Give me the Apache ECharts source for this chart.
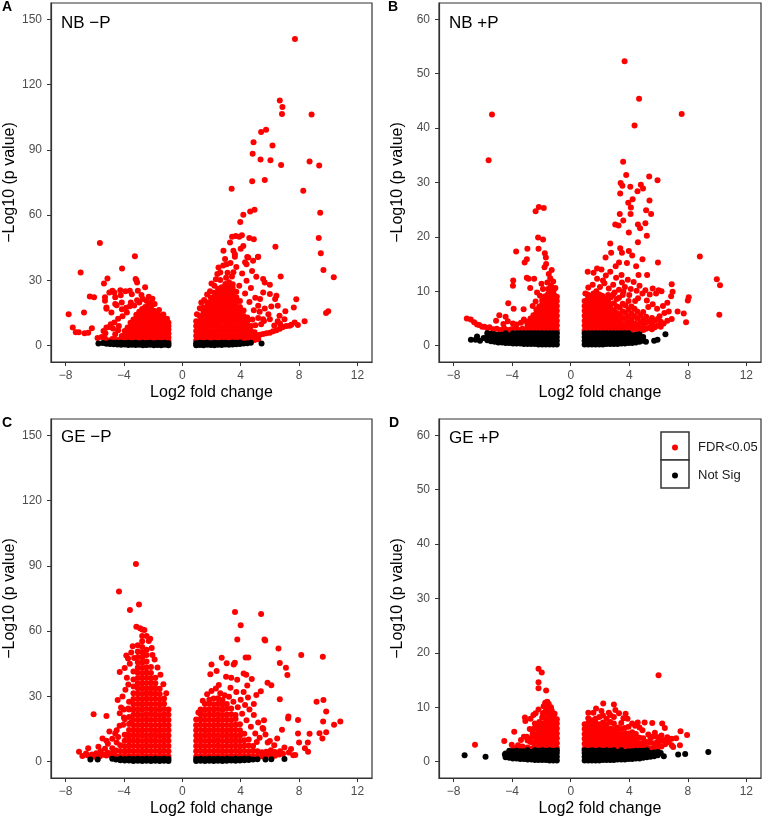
<!DOCTYPE html>
<html><head><meta charset="utf-8">
<script src="https://cdn.jsdelivr.net/npm/echarts@6/dist/echarts.min.js"></script>
<style>html,body{margin:0;padding:0;background:#fff}#c{width:762px;height:818px}</style>
</head><body><div id="c"></div><script>
const xTicks = [-8, -4, 0, 4, 8, 12];
const yTicksMinusP = [0, 30, 60, 90, 120, 150];
const yTicksPlusP = [0, 10, 20, 30, 40, 50, 60];
const panelNames = ['NB −P', 'NB +P', 'GE −P', 'GE +P'];
const panelLetters = ['A', 'B', 'C', 'D'];
const seriesNames = ['FDR<0.05', 'Not Sig'];

// ---- NB -P : columns are [x, y1, y2, ...]; points are [x, y]
const nbMinusSigCols = [
[-0.95,2.2,3.8,5.6,7.4,9.1,10.5],[-1.15,2.5,4.3,6.1,8.0,9.8,11.6],[-1.35,2.1,3.9,5.8,7.7,9.5,11.2,12.8],
[-1.55,2.6,4.5,6.4,8.3,10.1,12.0,13.9],[-1.75,2.3,4.1,6.0,7.9,9.9,11.8,13.6,15.2],[-1.95,2.7,4.6,6.5,8.5,10.4,12.3,14.2,16.0],
[-2.15,2.2,4.2,6.2,8.1,10.0,12.0,13.9,15.8,17.5],[-2.35,2.5,4.5,6.6,8.6,10.6,12.5,14.5,16.4,18.2],[-2.55,2.4,4.3,6.3,8.3,10.3,12.2,14.1,16.0,17.8],
[-2.75,2.6,4.7,6.8,8.8,10.9,12.8,14.8,16.9],[-2.95,2.3,4.2,6.1,8.0,10.0,12.1,14.0,15.6],[-3.15,2.5,4.6,6.7,8.8,10.8,12.7,14.2],
[-3.35,2.2,4.1,6.0,8.1,10.1,12.0],[-3.55,2.6,4.6,6.6,8.6,10.5],[-3.75,2.3,4.3,6.3,8.4],[-3.95,2.5,4.6,6.8],[-4.15,2.4,4.4],[-4.35,2.6],
[0.95,2.4,4.6,6.8,9.0,11.2],[1.2,2.6,4.8,7.0,9.2,11.4,13.6],[1.45,2.3,4.5,6.7,8.9,11.1,13.3,15.5,17.6],
[1.7,2.5,4.7,6.9,9.1,11.3,13.5,15.7,17.9,19.8],[1.95,2.4,4.6,6.8,9.0,11.2,13.4,15.6,17.8,20.0,22.1],
[2.2,2.6,4.8,7.0,9.2,11.4,13.6,15.8,18.0,20.2,22.4,24.3],[2.45,2.3,4.5,6.7,8.9,11.1,13.3,15.5,17.7,19.9,22.1,24.3,26.2],
[2.7,2.5,4.7,6.9,9.1,11.3,13.5,15.7,17.9,20.1,22.3,24.5,26.8],[2.95,2.4,4.6,6.8,9.0,11.2,13.4,15.6,17.8,20.0,22.2,24.4,26.6,28.3],
[3.2,2.6,4.8,7.0,9.2,11.4,13.6,15.8,18.0,20.2,22.4,24.6,26.8,29.1],[3.45,2.3,4.5,6.7,8.9,11.1,13.3,15.5,17.7,19.9,22.1,24.3,26.5,28.2],
[3.7,2.5,4.7,6.9,9.1,11.3,13.5,15.7,17.9,20.1,22.3,24.8],[3.95,2.4,4.6,6.8,9.0,11.2,13.4,15.6,17.8,20.5],
[4.2,2.6,4.8,7.0,9.2,11.4,13.6,16.2],[4.45,2.3,4.5,6.7,8.9,11.1,13.0],[4.7,2.5,4.7,6.9,9.0],[4.95,2.6,4.4,6.2],[5.2,3.0,4.6]
];
const nbMinusSigPts = [
[-5.65,47.2],[-3.25,41.1],[-4.13,35.5],[-6.97,33.6],[-5.13,30.9],[-3.15,30.1],[-5.37,28.6],[-6.34,22.6],[-6.05,22.3],[-7.79,14.5],
[-6.74,15.3],[-7.51,8.3],[-7.3,6.2],[-7.1,6.2],[-6.7,5.7],[-6.45,6.0],[-6.2,8.0],[-5.81,3.5],[-5.53,4.0],[-5.27,5.7],[-5.0,8.6],
[-4.66,10.6],[-4.86,15.2],[-5.2,17.0],[-5.3,20.6],[-4.66,24.4],[-4.25,25.5],[-3.9,25.0],[-5.0,24.4],[-4.5,18.6],[-3.53,19.8],
[-3.1,20.9],[-3.46,23.6],[-3.8,15.2],[-4.14,16.7],[-3.2,30.6],[-3.1,29.0],[-4.79,25.2],[-3.6,25.2],[-4.22,23.2],[-3.05,25.2],
[-5.3,22.3],[-4.6,22.3],[-4.6,19.2],[-4.15,19.9],[-5.2,17.6],[-4.9,9.9],[-5.2,8.3],[-5.4,6.8],[-4.4,12.4],[-4.1,13.5],[-3.85,17.4],
[-3.6,18.1],[-3.3,18.5],[-2.95,19.8],[-2.7,21.4],[-2.45,20.5],[-2.2,19.6],[-2.8,23.3],[-2.55,26.8],[-2.3,22.5],[-1.9,19.2],
[-1.6,16.4],[-1.3,14.3],[-1.05,12.4],[-2.05,21.6],[-4.55,2.6],[-4.8,3.1],[-5.05,2.4],[-5.3,3.3],[-4.6,5.2],[-4.4,7.1],[-4.75,7.9],[-4.35,9.0],
[7.72,140.9],[6.68,112.7],[6.86,109.7],[6.83,106.5],[8.86,106.3],[5.74,99.3],[5.40,98.2],[4.88,93.5],[6.18,92.0],[4.82,88.2],
[5.36,85.6],[6.04,85.2],[8.72,84.6],[6.77,83.0],[9.38,82.8],[4.79,75.6],[5.65,76.2],[3.38,72.1],[8.29,71.2],[4.95,62.5],[4.65,61.7],
[4.18,60.2],[9.45,61.1],[3.97,56.8],[9.35,49.5],[4.59,49.5],[4.9,48.9],[3.41,50.1],[6.38,45.5],[9.49,42.5],[9.67,34.8],[10.38,31.5],
[6.74,31.8],[7.81,21.3],[7.64,17.5],[7.06,15.8],[9.85,15.0],[10.0,15.8],[8.38,11.2],[4.45,40.8],[5.18,40.8],
[3.66,50.4],[3.9,50.1],[4.08,50.7],[3.27,47.4],[2.82,43.6],[2.93,39.8],[3.5,43.6],[3.6,40.9],[4.18,45.8],[4.52,40.5],[4.85,39.0],
[5.2,40.9],[2.48,35.9],[2.6,33.6],[3.04,37.4],[4.4,37.4],[4.78,34.3],[5.07,31.7],[5.54,30.6],[5.65,29.0],[6.0,28.0],[6.0,23.7],
[6.45,22.9],[6.36,21.4],[5.54,24.4],[5.33,21.4],[5.2,18.3],[5.65,17.1],[6.1,18.0],[6.54,18.3],[6.66,13.8],[5.9,14.5],[6.0,12.2],
[5.54,12.2],[6.54,11.2],[7.0,12.2],[7.36,9.2],[7.7,10.7],[7.92,9.5],
[6.9,8.6],[6.45,7.1],[6.0,6.0],[5.54,5.4],[5.1,4.8],[4.63,4.1],[4.2,3.5],[7.13,9.0],[7.47,9.6],[6.68,7.8],[6.22,6.6],[5.77,5.7],
[5.32,5.0],[4.87,4.4],[4.4,3.8],
[3.1,33.5],[3.4,31.8],[2.6,30.2],[3.9,27.5],[4.3,24.0],[4.6,20.1],[4.9,16.3],[5.2,12.7],[5.4,9.8],[2.2,27.5],[1.9,25.0],[1.5,21.0],
[1.2,17.2],[3.7,36.2],[3.3,38.0],[2.8,36.8],[4.1,33.2],[4.4,29.8],[3.6,42.0],[4.0,44.5],[4.3,38.4],[2.4,33.0],[1.0,14.5],[1.3,19.8],
[1.7,23.5],[2.0,28.6],[2.3,30.5],[3.0,31.2],[3.5,33.8],[4.7,26.5],[5.0,22.0],[5.3,15.6],[5.6,11.4],[5.0,9.4],[4.8,12.0],[6.3,9.3],[6.7,10.1]
];
const nbMinusNsCols = [
[-0.95,0.2,1.1],[-1.2,0.4,1.3],[-1.45,0.2,1.2],[-1.7,0.3,1.4],[-1.95,0.2,1.1],[-2.2,0.4,1.3],[-2.45,0.3,1.2],[-2.7,0.2,1.4],
[-2.95,0.4,1.1],[-3.2,0.3,1.3],[-3.45,0.4,1.2],[-3.7,0.3,1.4],[-3.95,0.5,1.2],[-4.2,0.4,1.3],[-4.45,0.6,1.4],[-4.7,0.7,1.3],
[-4.95,0.8,1.5],[-5.2,0.9],[-5.45,1.2],[-5.75,1.0],
[0.95,0.2,1.1],[1.2,0.3,1.3],[1.45,0.2,1.2],[1.7,0.4,1.4],[1.95,0.3,1.1],[2.2,0.2,1.3],[2.45,0.4,1.2],[2.7,0.3,1.4],[2.95,0.5,1.3],
[3.2,0.4,1.2],[3.45,0.6,1.5],[3.7,0.7,1.3],[3.95,0.8,1.5],[4.2,1.0],[4.45,1.1],[4.7,1.3],[5.43,1.0]
];

// ---- NB +P
const nbPlusSigCols = [
[-0.95,2.8,3.7,4.6,5.5,6.4,7.3,8.2,9.0],[-1.15,3.1,4.0,4.9,5.8,6.7,7.6,8.5,9.4,10.3],[-1.35,2.9,3.8,4.7,5.6,6.5,7.4,8.3,9.2,10.1,11.0],
[-1.55,3.2,4.1,5.0,5.9,6.8,7.7,8.6,9.5,10.4],[-1.75,2.8,3.7,4.6,5.5,6.4,7.3,8.2,9.1],[-1.95,3.1,4.0,4.9,5.8,6.7,7.6,8.3],
[-2.15,2.9,3.8,4.7,5.6,6.5,7.2],[-2.35,3.2,4.1,5.0,5.9,6.6],[-2.55,2.8,3.7,4.6,5.6],[-2.75,3.1,4.0,5.0],[-2.95,2.9,3.8],
[0.95,2.8,3.7,4.6,5.5,6.4,7.3,8.2],[1.15,3.1,4.0,4.9,5.8,6.7,7.6,8.5,9.4],[1.35,2.9,3.8,4.7,5.6,6.5,7.4,8.3,9.2],
[1.55,3.2,4.1,5.0,5.9,6.8,7.7,8.6,9.6],[1.75,2.8,3.7,4.6,5.5,6.4,7.3,8.2,9.1,10.0],[1.95,3.1,4.0,4.9,5.8,6.7,7.6,8.5,9.4],
[2.15,2.9,3.8,4.7,5.6,6.5,7.4,8.3,9.2],[2.35,3.2,4.1,5.0,5.9,6.8,7.7,8.6],[2.55,2.8,3.7,4.6,5.5,6.4,7.3,8.2,9.3],
[2.75,3.1,4.0,4.9,5.8,6.7,7.6,8.9],[2.95,2.9,3.8,4.7,5.6,6.5,7.8],[3.15,3.2,4.1,5.0,6.0,7.2,8.6],[3.35,2.8,3.7,4.7,5.8,7.0],
[3.55,3.1,4.0,5.1,6.3,7.7,9.3],[3.75,2.9,3.9,4.9,6.0,7.4],[3.95,3.2,4.2,5.3,6.6,8.2],[4.15,2.8,3.8,4.8,5.9,7.2],
[4.35,3.1,4.1,5.4,6.8],[4.55,2.9,3.9,5.0,6.3],[4.75,3.2,4.3,5.6],[4.95,2.9,3.8,4.8,6.2],[5.15,3.1,4.2,5.3],[5.35,3.3,4.5],
[5.55,3.0,4.0,5.1],[5.75,3.4,4.6],[5.95,3.7,4.9],[6.15,3.5,4.4],[6.35,4.1]
];
const nbPlusSigPts = [
[-5.61,34.1],[-5.38,42.5],[-2.4,24.7],[-2.18,25.5],[-1.84,25.3],[-2.23,19.9],[-1.89,19.5],[-3.73,17.3],[-2.96,17.8],[-2.2,17.8],
[-1.77,17.0],[-1.7,16.2],[-3.0,15.9],[-3.15,15.3],[-1.68,15.0],[-1.79,14.4],[-3.93,12.0],[-3.95,11.0],[-3.0,12.5],[-2.88,12.3],
[-2.5,12.3],[-2.77,10.6],[-2.3,9.8],[-4.27,7.8],[-3.9,6.8],[-3.22,6.7],[-4.88,5.6],[-5.1,4.6],[-7.1,5.0],[-6.83,4.8],[-6.6,4.3],
[-6.4,3.9],[-6.25,3.8],[-6.05,3.5],[-5.9,3.5],[-5.7,3.2],[-5.55,3.4],[-5.3,3.0],[-5.05,3.1],[-4.8,2.9],[-4.55,3.2],[-4.3,2.9],
[-4.05,3.0],[-3.8,3.3],[-3.55,2.9],[-3.3,3.1],[-3.05,3.0],[-4.6,4.0],[-4.3,4.5],[-3.95,4.1],[-3.7,3.9],[-3.4,4.2],[-3.2,4.8],
[-3.0,4.4],[-4.45,5.3],[-2.6,7.3],[-2.4,8.1],[-2.1,9.2],[-1.9,10.4],[-1.6,11.6],[-1.4,12.4],[-1.2,11.8],[-1.05,10.6],[-1.5,13.2],
[-2.0,11.4],[-1.3,13.9],
[3.68,52.3],[4.67,45.4],[7.58,42.6],[4.36,40.5],[3.58,33.8],[3.79,31.4],[3.41,29.9],[3.53,29.4],[4.07,29.2],[4.79,29.6],[4.94,28.9],
[5.36,31.1],[5.93,30.4],[4.56,28.4],[3.38,28.0],[4.23,26.9],[5.38,26.7],[3.93,26.3],[4.11,25.4],[5.15,24.9],[5.49,24.2],[3.35,24.2],
[4.09,24.2],[3.59,23.0],[3.04,22.3],[3.27,22.1],[4.59,22.3],[5.1,22.5],[4.74,21.6],[3.97,20.8],[4.59,19.0],[5.2,20.2],[2.7,18.8],
[3.38,17.9],[3.5,17.1],[3.97,17.4],[2.76,17.1],[2.38,16.2],[4.2,16.6],[4.9,15.9],[3.3,15.3],[3.84,15.2],[4.47,14.6],[5.96,15.3],
[1.8,14.2],[2.1,14.0],[1.16,13.6],[1.56,13.4],[3.07,14.6],[3.47,13.0],[4.63,13.0],[5.22,13.0],[6.9,11.3],[6.96,9.9],[8.82,16.4],
[9.98,12.2],[10.2,11.1],[10.15,5.7],[8.06,8.9],[8.0,8.3],[7.72,5.9],[7.88,4.3],[7.3,6.3],[6.86,9.1],[6.7,6.3],[6.4,6.0],[6.07,5.4],
[5.83,9.6],[6.0,10.2],[5.6,10.5],[6.2,10.0],[5.4,9.4],[5.2,8.3],
[2.0,10.8],[2.3,11.5],[2.6,10.5],[2.9,11.2],[3.1,12.5],[3.3,10.3],[3.5,11.6],[3.7,10.8],[3.9,12.1],[4.1,10.4],[4.3,11.7],[4.5,10.1],
[4.7,11.0],[4.9,9.6],[5.1,10.2],[1.5,11.2],[1.8,12.3],[2.4,12.9],[2.7,13.6],[3.0,9.8],[3.6,9.9],[4.0,9.3],[4.6,8.7],[5.3,7.1],
[5.6,7.6],[5.9,6.8],[6.3,7.3],[6.6,7.9],[1.2,10.7],[1.0,9.6],[2.2,12.0],[4.4,8.2],[3.3,8.8],[2.9,9.4],[6.6,4.6],[6.9,4.9]
];
const nbPlusNsCols = [
[-0.95,0.2,0.9,1.6,2.3],[-1.2,0.2,0.9,1.6,2.3],[-1.45,0.2,0.9,1.6,2.3],[-1.7,0.2,0.9,1.6,2.3],[-1.95,0.2,0.9,1.6,2.3],
[-2.2,0.2,0.9,1.6,2.3],[-2.45,0.3,1.0,1.7,2.3],[-2.7,0.3,1.0,1.7,2.3],[-2.95,0.3,1.0,1.7,2.3],[-3.2,0.3,1.0,1.7,2.3],
[-3.45,0.4,1.1,1.8,2.3],[-3.7,0.4,1.1,1.8,2.3],[-3.95,0.4,1.1,1.8,2.3],[-4.2,0.5,1.2,1.9],[-4.45,0.5,1.2,1.9,2.3],
[-4.7,0.6,1.3,2.0],[-4.95,0.6,1.3,2.0],[-5.2,0.7,1.4,2.1],[-5.45,0.8,1.5,2.2],[-5.7,1.0,1.7,2.3],[-5.95,1.4],[-6.2,0.9],
[-6.4,1.7],[-6.5,1.1],[-6.82,1.1],
[0.95,0.2,0.9,1.6,2.3],[1.2,0.2,0.9,1.6,2.3],[1.45,0.2,0.9,1.6,2.3],[1.7,0.2,0.9,1.6,2.3],[1.95,0.2,0.9,1.6,2.3],
[2.2,0.2,0.9,1.6,2.3],[2.45,0.3,1.0,1.7,2.3],[2.7,0.3,1.0,1.7,2.3],[2.95,0.3,1.0,1.7,2.3],[3.2,0.3,1.0,1.7,2.3],
[3.45,0.4,1.1,1.8,2.3],[3.7,0.4,1.1,1.8,2.3],[3.95,0.5,1.2,1.9,2.3],[4.2,0.5,1.2,1.9],[4.45,0.6,1.3,2.0],[4.7,0.7,1.4,2.1],
[4.95,0.9,1.6],[5.14,0.7],[5.7,0.9],[5.93,1.1],[6.47,2.1]
];

// ---- GE -P
const geMinusSigCols = [
[-0.95,2.4,4.8,7.2,9.6,12.0,14.4,16.8,19.2,21.6,24.0],
[-1.25,2.6,5.0,7.4,9.8,12.2,14.6,17.0,19.4,21.8,24.2,26.6,29.0],
[-1.55,2.3,4.7,7.1,9.5,11.9,14.3,16.7,19.1,21.5,23.9,26.3,28.7,31.1,33.5],
[-1.85,2.5,4.9,7.3,9.7,12.1,14.5,16.9,19.3,21.7,24.1,26.5,28.9,31.3,33.7,36.1,38.6],
[-2.15,2.4,4.8,7.2,9.6,12.0,14.4,16.8,19.2,21.6,24.0,26.4,28.8,31.2,33.6,36.0,38.4,40.8,43.5],
[-2.45,2.6,5.0,7.4,9.8,12.2,14.6,17.0,19.4,21.8,24.2,26.6,29.0,31.4,33.8,36.2,38.6,41.0,43.4,46.0,49.0,51.5],
[-2.75,2.3,4.7,7.1,9.5,11.9,14.3,16.7,19.1,21.5,23.9,26.3,28.7,31.1,33.5,35.9,38.3,40.7,43.1,45.5,47.9,50.3,52.7,55.3,57.8],
[-3.05,2.5,4.9,7.3,9.7,12.1,14.5,16.9,19.3,21.7,24.1,26.5,28.9,31.3,33.7,36.1,38.5,40.9,43.3,45.7,48.1,50.6,53.5],
[-3.35,2.4,4.8,7.2,9.6,12.0,14.4,16.8,19.2,21.6,24.0,26.4,28.8,31.5,34.5,37.8,41.5],
[-3.65,2.6,5.0,7.4,9.8,12.2,14.6,17.3,20.5,24.0,27.5],[-3.95,2.3,4.7,7.1,9.6,12.4],[-4.25,2.5,4.9,7.5],[-4.55,2.6,5.1],
[0.95,2.4,4.8,7.2,9.6,12.0,14.4,16.8,19.4],[1.25,2.6,5.0,7.4,9.8,12.2,14.6,17.0,19.4,21.8,24.0],
[1.55,2.3,4.7,7.1,9.5,11.9,14.3,16.7,19.1,21.5,23.9,26.5],[1.85,2.5,4.9,7.3,9.7,12.1,14.5,16.9,19.3,21.7,24.1,26.6,28.5],
[2.15,2.4,4.8,7.2,9.6,12.0,14.4,16.8,19.2,21.6,24.0,26.4,29.0],[2.45,2.6,5.0,7.4,9.8,12.2,14.6,17.0,19.4,21.8,24.2,26.6,29.2],
[2.75,2.3,4.7,7.1,9.5,11.9,14.3,16.7,19.1,21.5,23.9,26.3,28.4],[3.05,2.5,4.9,7.3,9.7,12.1,14.5,16.9,19.3,21.7,24.3,26.5],
[3.35,2.4,4.8,7.2,9.6,12.0,14.4,16.8,19.2,21.8,24.5],[3.65,2.6,5.0,7.4,9.8,12.2,14.6,17.0,19.6,21.5],
[3.95,2.3,4.7,7.1,9.5,11.9,14.5,17.2],[4.25,2.5,4.9,7.3,9.9,12.8],[4.55,2.4,4.8,7.4,10.2],[4.85,2.6,5.0,7.2],
[5.15,2.3,4.8],[5.45,2.5,4.3],[5.75,2.8,4.6],[6.05,3.1],[6.35,2.7,4.4],[6.65,3.3]
];
const geMinusSigPts = [
[-3.18,90.8],[-4.34,78.2],[-2.97,72.2],[-3.59,69.7],[-3.15,62.0],[-2.75,60.7],[-2.2,56.5],[-3.84,48.8],[-3.72,47.4],[-4.29,41.2],
[-4.43,28.4],[-6.08,21.8],[-5.2,21.0],[-4.29,22.3],[-4.2,24.9],[-4.0,24.0],[-3.7,24.5],[-4.5,14.5],[-5.0,13.9],[-5.47,10.7],
[-5.2,9.6],[-7.08,4.6],[-6.45,6.2],[-6.6,3.8],[-3.95,19.5],[-3.85,12.3],[-3.52,18.0],[-2.6,60.5],[-2.9,61.3],[-3.4,53.0],
[-3.5,50.2],[-2.3,55.5],[-2.1,52.3],[-1.9,47.0],[-1.7,43.3],[-1.5,40.0],[-1.3,35.6],[-1.1,31.5],[-3.6,45.0],[-3.8,38.6],
[-3.9,33.1],[-4.1,30.0],[-3.7,35.5],[-4.0,20.3],[-4.3,16.5],[-4.6,13.0],[-4.8,10.5],[-5.1,8.2],[-4.4,11.4],[-5.3,6.0],[-5.6,4.8],
[-5.9,3.9],[-6.2,3.3],[-6.5,2.9],[-4.9,3.5],[-5.2,2.8],[-4.8,6.2],[-4.5,8.8],[-4.05,17.0],[-6.85,2.6],[-5.75,6.9],[-2.45,57.8],
[-2.05,49.0],[-3.3,47.6],[-3.95,43.0],[-4.85,2.6],[-5.1,4.1],[-4.7,4.5],[-5.4,3.2],[-5.65,2.5],[-6.0,2.4],
[3.61,68.8],[5.4,67.9],[4.0,62.7],[3.77,56.2],[5.63,56.2],[5.68,55.7],[6.59,52.0],[8.15,49.0],[9.63,48.2],[6.68,45.4],[2.7,47.8],
[3.52,44.7],[3.6,45.5],[4.34,47.9],[4.52,47.9],[2.0,44.7],[3.04,45.2],[7.1,43.2],[7.2,39.8],[4.2,40.5],[4.38,40.0],[4.76,38.0],
[3.0,39.0],[3.35,38.6],[1.92,40.2],[2.35,41.7],[3.76,37.6],[4.45,35.0],[5.84,36.3],[6.1,35.1],[5.38,32.4],[5.07,30.7],[6.68,28.7],
[9.2,27.6],[9.67,28.4],[9.86,23.1],[7.27,20.8],[7.25,19.9],[7.93,19.1],[9.65,18.5],[10.83,18.5],[10.4,17.0],[5.6,19.0],[5.55,15.0],
[6.83,14.7],[7.93,13.0],[8.72,12.8],[9.4,13.1],[9.86,13.5],[9.6,10.7],[6.5,10.7],[8.0,8.8],[8.6,8.8],[8.4,6.2],[8.62,4.6],[7.74,3.1],
[7.45,5.8],[6.7,4.8],[5.85,8.8],[6.07,5.2],
[1.1,22.6],[1.4,28.0],[1.7,31.0],[2.0,32.5],[2.3,33.6],[2.6,31.5],[2.9,30.5],[3.2,29.8],[3.5,27.6],[3.8,25.0],[4.1,22.0],[4.4,19.0],
[4.7,16.0],[5.0,13.0],[5.3,11.0],[4.0,28.5],[4.3,26.0],[4.6,24.0],[4.9,21.5],[5.2,18.0],[5.5,15.5],[3.3,34.0],[3.7,32.0],[2.5,35.2],
[4.5,29.5],[4.9,26.5],[5.7,12.5],[6.0,9.5],[6.3,7.5],[5.1,9.0],[4.2,32.0],[7.0,6.5],[7.3,4.2],[6.9,3.6],[7.6,2.9],[6.2,2.8],[5.9,3.4]
];
const geMinusNsCols = [
[-0.95,0.3,1.2],[-1.25,0.4,1.3],[-1.55,0.3,1.2],[-1.85,0.4,1.3],[-2.15,0.3,1.2],[-2.45,0.4,1.3],[-2.75,0.3,1.2],[-3.05,0.4,1.3],
[-3.35,0.3,1.2],[-3.65,0.5,1.3],[-3.95,0.6,1.2],[-4.25,0.7,1.3],[-4.55,1.0],[-4.8,1.3],[-5.8,1.0],[-6.3,1.0],
[0.95,0.3,1.2],[1.25,0.4,1.3],[1.55,0.3,1.2],[1.85,0.4,1.3],[2.15,0.3,1.2],[2.45,0.4,1.3],[2.75,0.3,1.2],[3.05,0.4,1.3],
[3.35,0.5,1.2],[3.65,0.4,1.3],[3.95,0.6,1.2],[4.25,0.7,1.3],[4.55,0.8,1.3],[4.85,1.0],[5.15,1.1],[5.7,1.0],[6.1,1.1],[7.0,1.2]
];

// ---- GE +P
const gePlusSigCols = [
[-0.95,2.5,3.4,4.3,5.2,6.1,7.0,7.8],[-1.15,2.4,3.3,4.2,5.1,6.0,6.9,7.8,8.6],[-1.35,2.6,3.5,4.4,5.3,6.2,7.1,8.0,9.0,10.0],
[-1.55,2.3,3.2,4.1,5.0,5.9,6.8,7.7,8.7,9.8],[-1.75,2.5,3.4,4.3,5.2,6.1,7.0,8.0,9.2,10.8],[-1.95,2.4,3.3,4.2,5.1,6.0,7.0,8.1],
[-2.15,2.6,3.5,4.4,5.3,6.3,7.3],[-2.35,2.3,3.2,4.1,5.0,6.0],[-2.55,2.5,3.5,4.6],[-2.75,2.4,3.6],[-2.95,2.6,3.9],[-3.2,2.5],
[0.95,2.4,3.3,4.2,5.1,6.0,6.9],[1.2,2.6,3.5,4.4,5.3,6.2,7.1,8.0],[1.45,2.3,3.2,4.1,5.0,5.9,6.8,7.6],[1.7,2.5,3.4,4.3,5.2,6.1,7.0,7.9],
[1.95,2.4,3.3,4.2,5.1,6.0,6.9,8.2],[2.2,2.6,3.5,4.4,5.3,6.2,7.2,8.5],[2.45,2.3,3.2,4.1,5.0,5.9,6.9,7.9],[2.7,2.5,3.4,4.3,5.2,6.1,7.3],
[2.95,2.4,3.3,4.2,5.1,6.0,7.0,8.2],[3.2,2.6,3.5,4.4,5.3,6.3],[3.45,2.3,3.2,4.1,5.0,6.0,7.1],[3.7,2.5,3.4,4.3,5.2,6.2],
[3.95,2.4,3.3,4.2,5.2,6.4],[4.2,2.6,3.5,4.4,5.4],[4.45,2.3,3.2,4.1,5.1],[4.7,2.5,3.4,4.4],[4.95,2.4,3.3,4.3],[5.2,2.6,3.6],
[5.45,2.4,3.5,4.4],[5.7,2.6,3.4],[5.95,2.5,3.7,4.5],[6.2,2.8,3.9],[6.45,3.2,4.0],[6.7,3.6]
];
const gePlusSigPts = [
[-2.2,17.1],[-1.98,16.4],[-2.2,14.6],[-2.2,13.5],[-1.68,13.1],[-1.7,10.9],[-1.6,11.0],[-1.5,10.6],[-1.85,10.2],[-2.2,9.6],
[-2.4,8.9],[-2.55,8.6],[-3.13,8.1],[-3.1,7.5],[-2.75,7.9],[-2.45,7.0],[-2.8,6.0],[-3.86,5.5],[-4.54,3.8],[-4.03,3.1],[-6.54,3.1],
[-3.2,4.6],[-3.0,4.6],[-2.8,4.3],[-2.6,5.2],[-2.5,6.1],[-3.4,4.0],[-3.6,3.0],[-2.35,6.8],[-1.3,9.4],[-1.1,8.8],[-1.9,8.9],
[-3.3,2.8],[-3.5,2.6],[-3.9,2.5],
[6.0,15.9],[2.22,10.7],[2.95,10.5],[3.05,9.5],[1.73,9.8],[2.1,9.3],[1.55,9.0],[2.6,9.0],[3.3,8.9],[3.88,7.9],[4.58,7.2],[5.05,7.2],
[5.57,7.1],[6.25,7.0],[6.43,6.2],[7.5,5.6],[7.95,4.9],[7.46,3.0],[5.75,5.3],[4.9,5.8],[5.3,5.0],[6.6,4.5],[6.9,4.2],[7.2,4.3],
[3.6,8.0],[4.2,7.0],[4.7,6.3],[2.7,8.6],[1.2,9.0],[3.75,8.8],[4.4,6.6],[5.6,4.6],[6.2,4.8],[6.0,3.3],[6.9,3.0],[7.0,2.7]
];
const gePlusNsCols = [
[-0.95,0.2,0.9,1.6,2.1],[-1.2,0.2,0.9,1.6,2.0],[-1.45,0.2,0.9,1.6,2.1],[-1.7,0.3,1.0,1.7,2.0],[-1.95,0.3,1.0,1.7,2.1],
[-2.2,0.3,1.0,1.7,2.0],[-2.45,0.3,1.0,1.7,2.1],[-2.7,0.4,1.1,1.8],[-2.95,0.4,1.1,1.8,2.1],[-3.2,0.5,1.2,1.9],[-3.45,0.5,1.2,1.9],
[-3.7,0.6,1.3,2.0],[-3.95,0.6,1.3,1.9],[-4.2,0.7,1.4,2.0],[-4.45,0.8,1.5],[-4.5,1.3],[-5.82,0.9],[-7.25,1.2],
[0.95,0.2,0.9,1.6,2.1],[1.2,0.2,0.9,1.6,2.0],[1.45,0.2,0.9,1.6,2.1],[1.7,0.2,0.9,1.6,2.0],[1.95,0.2,0.9,1.6,2.1],
[2.2,0.3,1.0,1.7,2.0],[2.45,0.3,1.0,1.7,2.1],[2.7,0.3,1.0,1.7,2.0],[2.95,0.3,1.0,1.7,2.1],[3.2,0.4,1.1,1.8],[3.45,0.4,1.1,1.8,2.1],
[3.7,0.4,1.1,1.8],[3.95,0.5,1.2,1.9],[4.2,0.5,1.2,1.9],[4.45,0.6,1.3,2.0],[4.7,0.6,1.3,2.0],[4.95,0.7,1.4,2.0],[5.2,0.8,1.5,2.1],
[5.45,0.9,1.6],[5.7,1.0,1.7],[5.95,1.2,1.8],[6.15,1.6],[6.36,1.0],[7.34,1.3],[7.82,1.4],[9.4,1.8]
];

function toPoints(cols, extra) {
  const out = [];
  cols.forEach(c => { for (let i = 1; i < c.length; i++) out.push([c[0], c[i]]); });
  return out.concat(extra || []);
}

const panels = [
  { sig: toPoints(nbMinusSigCols, nbMinusSigPts), ns: toPoints(nbMinusNsCols), yMin: -7.5, yMax: 157.5, yTicks: yTicksMinusP },
  { sig: toPoints(nbPlusSigCols, nbPlusSigPts),   ns: toPoints(nbPlusNsCols),  yMin: -3,   yMax: 63,    yTicks: yTicksPlusP },
  { sig: toPoints(geMinusSigCols, geMinusSigPts), ns: toPoints(geMinusNsCols), yMin: -7.5, yMax: 157.5, yTicks: yTicksMinusP },
  { sig: toPoints(gePlusSigCols, gePlusSigPts),   ns: toPoints(gePlusNsCols),  yMin: -3,   yMax: 63,    yTicks: yTicksPlusP }
];

const gridBoxes = [
  { left: 51,  top: 3,   width: 321, height: 359 },
  { left: 439, top: 3,   width: 322, height: 359 },
  { left: 51,  top: 419, width: 321, height: 359 },
  { left: 439, top: 419, width: 322, height: 359 }
];

const FONT = '"Liberation Sans", Arial, Helvetica, sans-serif';
const chart = echarts.init(document.getElementById('c'), null, { renderer: 'canvas' });
const lineStyle = { color: '#333333', width: 1.2 };

const option = {
  animation: false,
  backgroundColor: '#ffffff',
  textStyle: { fontFamily: FONT },
  grid: gridBoxes.map(g => Object.assign({ show: true, borderColor: '#333333', borderWidth: 1.2, backgroundColor: 'transparent', containLabel: false }, g)),
  xAxis: panels.map((p, i) => ({
    gridIndex: i, type: 'value', min: -9, max: 13, position: 'bottom',
    splitLine: { show: false }, axisLine: { show: true, onZero: false, lineStyle: lineStyle },
    axisTick: { show: true, length: 4, lineStyle: { color: '#333333', width: 1 }, customValues: xTicks },
    axisLabel: { color: '#4d4d4d', fontSize: 12, margin: 8, customValues: xTicks, formatter: v => String(v).replace('-', '−') },
    name: 'Log2 fold change', nameLocation: 'middle', nameGap: 23,
    nameTextStyle: { fontSize: 16, color: '#000000', fontFamily: FONT }
  })),
  yAxis: panels.map((p, i) => ({
    gridIndex: i, type: 'value', min: p.yMin, max: p.yMax, position: 'left',
    splitLine: { show: false }, axisLine: { show: true, onZero: false, lineStyle: lineStyle },
    axisTick: { show: true, length: 4, lineStyle: { color: '#333333', width: 1 }, customValues: p.yTicks },
    axisLabel: { color: '#4d4d4d', fontSize: 12, margin: 9, customValues: p.yTicks },
    name: '−Log10 (p value)', nameLocation: 'middle', nameGap: 33, nameRotate: 90,
    nameTextStyle: { fontSize: 16, color: '#000000', fontFamily: FONT }
  })),
  title: [
    { text: panelLetters[0], left: 2, top: 0 },
    { text: panelLetters[1], left: 388, top: 0 },
    { text: panelLetters[2], left: 2, top: 416 },
    { text: panelLetters[3], left: 389, top: 416 }
  ].map(t => Object.assign(t, { padding: 0, textStyle: { fontSize: 14, fontWeight: 'bold', color: '#000', fontFamily: FONT } }))
  .concat([
    { text: panelNames[0], left: 61, top: 15 },
    { text: panelNames[1], left: 449, top: 15 },
    { text: panelNames[2], left: 61, top: 429 },
    { text: panelNames[3], left: 449, top: 430 }
  ].map(t => Object.assign(t, { padding: 0, textStyle: { fontSize: 17, fontWeight: 'normal', color: '#000', fontFamily: FONT } }))),
  legend: {
    data: seriesNames, orient: 'vertical', left: 672, top: 441, padding: 0,
    itemWidth: 6, itemHeight: 6, itemGap: 15, icon: 'circle', selectedMode: false, z: 10,
    textStyle: { fontSize: 13, color: '#1a1a1a', fontFamily: FONT, padding: [0, 0, 0, 15] }
  },
  graphic: [
    { type: 'rect', z: 1, shape: { x: 661, y: 432, width: 28, height: 28 }, style: { fill: '#fff', stroke: '#333', lineWidth: 1.5 } },
    { type: 'rect', z: 1, shape: { x: 661, y: 460, width: 28, height: 28 }, style: { fill: '#fff', stroke: '#333', lineWidth: 1.5 } }
  ],
  series: []
};

panels.forEach((p, i) => {
  option.series.push({
    type: 'scatter', name: seriesNames[0], xAxisIndex: i, yAxisIndex: i, data: p.sig,
    symbol: 'circle', symbolSize: 6, itemStyle: { color: '#ff0000', opacity: 1 }, silent: true
  });
  option.series.push({
    type: 'scatter', name: seriesNames[1], xAxisIndex: i, yAxisIndex: i, data: p.ns,
    symbol: 'circle', symbolSize: 6, itemStyle: { color: '#000000', opacity: 1 }, silent: true
  });
});

chart.setOption(option);
</script></body></html>
